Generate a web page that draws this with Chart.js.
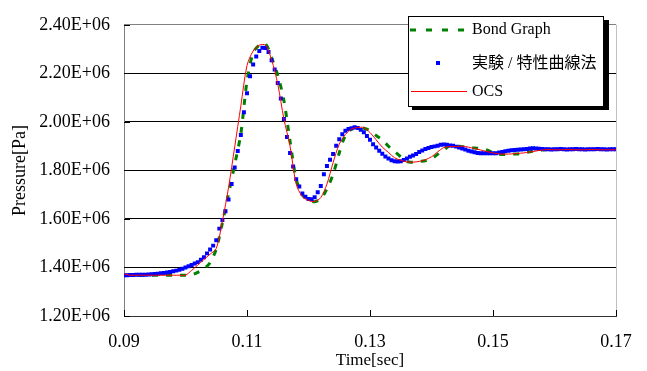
<!DOCTYPE html>
<html>
<head>
<meta charset="utf-8">
<script src="https://cdn.jsdelivr.net/npm/chart.js@4.4.1/dist/chart.umd.min.js"></script>
<style>
  html, body { margin: 0; padding: 0; background: #fff; }
</style>
</head>
<body>
<canvas id="chart" width="647" height="371"></canvas>
<script>
// series names
const nameBond = 'Bond Graph';
const nameExp = '実験 / 特性曲線法';
const nameOcs = 'OCS';

// axis ticks
const xTicks = [0.09, 0.11, 0.13, 0.15, 0.17];
const yTicks = [1.2e6, 1.4e6, 1.6e6, 1.8e6, 2.0e6, 2.2e6, 2.4e6];

// experiment (blue squares), every 0.5 ms
const expTime = [
  0.0900, 0.0905, 0.0910, 0.0915, 0.0920, 0.0925, 0.0930, 0.0935, 0.0940, 0.0945,
  0.0950, 0.0955, 0.0960, 0.0965, 0.0970, 0.0975, 0.0980, 0.0985, 0.0990, 0.0995,
  0.1000, 0.1005, 0.1010, 0.1015, 0.1020, 0.1025, 0.1030, 0.1035, 0.1040, 0.1045,
  0.1050, 0.1055, 0.1060, 0.1065, 0.1070, 0.1075, 0.1080, 0.1085, 0.1090, 0.1095,
  0.1100, 0.1105, 0.1110, 0.1115, 0.1120, 0.1125, 0.1130, 0.1135, 0.1140, 0.1145,
  0.1150, 0.1155, 0.1160, 0.1165, 0.1170, 0.1175, 0.1180, 0.1185, 0.1190, 0.1195,
  0.1200, 0.1205, 0.1210, 0.1215, 0.1220, 0.1225, 0.1230, 0.1235, 0.1240, 0.1245,
  0.1250, 0.1255, 0.1260, 0.1265, 0.1270, 0.1275, 0.1280, 0.1285, 0.1290, 0.1295,
  0.1300, 0.1305, 0.1310, 0.1315, 0.1320, 0.1325, 0.1330, 0.1335, 0.1340, 0.1345,
  0.1350, 0.1355, 0.1360, 0.1365, 0.1370, 0.1375, 0.1380, 0.1385, 0.1390, 0.1395,
  0.1400, 0.1405, 0.1410, 0.1415, 0.1420, 0.1425, 0.1430, 0.1435, 0.1440, 0.1445,
  0.1450, 0.1455, 0.1460, 0.1465, 0.1470, 0.1475, 0.1480, 0.1485, 0.1490, 0.1495,
  0.1500, 0.1505, 0.1510, 0.1515, 0.1520, 0.1525, 0.1530, 0.1535, 0.1540, 0.1545,
  0.1550, 0.1555, 0.1560, 0.1565, 0.1570, 0.1575, 0.1580, 0.1585, 0.1590, 0.1595,
  0.1600, 0.1605, 0.1610, 0.1615, 0.1620, 0.1625, 0.1630, 0.1635, 0.1640, 0.1645,
  0.1650, 0.1655, 0.1660, 0.1665, 0.1670, 0.1675, 0.1680, 0.1685, 0.1690, 0.1695,
  0.1700
];
const expPressure = [
  1.368e6, 1.368e6, 1.369e6, 1.369e6, 1.370e6, 1.370e6, 1.370e6, 1.370e6, 1.371e6, 1.372e6,
  1.373e6, 1.374e6, 1.376e6, 1.377e6, 1.379e6, 1.381e6, 1.384e6, 1.387e6, 1.390e6, 1.395e6,
  1.400e6, 1.405e6, 1.410e6, 1.416e6, 1.422e6, 1.432e6, 1.442e6, 1.458e6, 1.474e6, 1.490e6,
  1.512e6, 1.560e6, 1.596e6, 1.632e6, 1.680e6, 1.744e6, 1.812e6, 1.880e6, 1.946e6, 2.040e6,
  2.118e6, 2.188e6, 2.236e6, 2.269e6, 2.292e6, 2.305e6, 2.304e6, 2.288e6, 2.254e6, 2.216e6,
  2.160e6, 2.096e6, 2.012e6, 1.938e6, 1.872e6, 1.816e6, 1.764e6, 1.734e6, 1.705e6, 1.691e6,
  1.682e6, 1.681e6, 1.689e6, 1.710e6, 1.736e6, 1.784e6, 1.818e6, 1.844e6, 1.868e6, 1.902e6,
  1.928e6, 1.949e6, 1.963e6, 1.971e6, 1.974e6, 1.978e6, 1.975e6, 1.967e6, 1.957e6, 1.942e6,
  1.926e6, 1.908e6, 1.894e6, 1.881e6, 1.869e6, 1.857e6, 1.849e6, 1.842e6, 1.838e6, 1.837e6,
  1.838e6, 1.843e6, 1.849e6, 1.856e6, 1.861e6, 1.868e6, 1.876e6, 1.882e6, 1.888e6, 1.892e6,
  1.896e6, 1.899e6, 1.902e6, 1.906e6, 1.907e6, 1.906e6, 1.903e6, 1.902e6, 1.898e6, 1.894e6,
  1.890e6, 1.886e6, 1.881e6, 1.878e6, 1.875e6, 1.872e6, 1.871e6, 1.871e6, 1.871e6, 1.871e6,
  1.871e6, 1.871e6, 1.874e6, 1.876e6, 1.879e6, 1.881e6, 1.883e6, 1.884e6, 1.885e6, 1.886e6,
  1.887e6, 1.888e6, 1.890e6, 1.891e6, 1.890e6, 1.889e6, 1.888e6, 1.887e6, 1.887e6, 1.886e6,
  1.887e6, 1.887e6, 1.888e6, 1.887e6, 1.886e6, 1.887e6, 1.887e6, 1.888e6, 1.887e6, 1.887e6,
  1.886e6, 1.887e6, 1.887e6, 1.887e6, 1.888e6, 1.887e6, 1.887e6, 1.886e6, 1.887e6, 1.887e6,
  1.887e6
];

// simulations, every 1 ms
const simTime = [
  0.090, 0.091, 0.092, 0.093, 0.094, 0.095, 0.096, 0.097, 0.098, 0.099,
  0.100, 0.101, 0.102, 0.103, 0.104, 0.105, 0.106, 0.107, 0.108, 0.109,
  0.110, 0.111, 0.112, 0.113, 0.114, 0.115, 0.116, 0.117, 0.118, 0.119,
  0.120, 0.121, 0.122, 0.123, 0.124, 0.125, 0.126, 0.127, 0.128, 0.129,
  0.130, 0.131, 0.132, 0.133, 0.134, 0.135, 0.136, 0.137, 0.138, 0.139,
  0.140, 0.141, 0.142, 0.143, 0.144, 0.145, 0.146, 0.147, 0.148, 0.149,
  0.150, 0.151, 0.152, 0.153, 0.154, 0.155, 0.156, 0.157, 0.158, 0.159,
  0.160, 0.161, 0.162, 0.163, 0.164, 0.165, 0.166, 0.167, 0.168, 0.169,
  0.170
];
const ocsPressure = [
  1.374e6, 1.368e6, 1.368e6, 1.368e6, 1.368e6, 1.368e6, 1.368e6, 1.368e6, 1.368e6, 1.368e6,
  1.368e6, 1.388e6, 1.410e6, 1.433e6, 1.455e6, 1.478e6, 1.591e6, 1.730e6, 1.897e6, 2.066e6,
  2.232e6, 2.292e6, 2.316e6, 2.316e6, 2.256e6, 2.156e6, 2.012e6, 1.900e6, 1.744e6, 1.692e6,
  1.676e6, 1.672e6, 1.688e6, 1.744e6, 1.832e6, 1.908e6, 1.948e6, 1.970e6, 1.977e6, 1.976e6,
  1.956e6, 1.926e6, 1.896e6, 1.874e6, 1.852e6, 1.842e6, 1.835e6, 1.834e6, 1.837e6, 1.844e6,
  1.856e6, 1.876e6, 1.894e6, 1.898e6, 1.898e6, 1.900e6, 1.896e6, 1.890e6, 1.884e6, 1.878e6,
  1.872e6, 1.868e6, 1.867e6, 1.868e6, 1.870e6, 1.872e6, 1.876e6, 1.880e6, 1.884e6, 1.886e6,
  1.885e6, 1.885e6, 1.886e6, 1.885e6, 1.885e6, 1.885e6, 1.886e6, 1.885e6, 1.885e6, 1.885e6,
  1.885e6
];
const bondPressure = [
  1.368e6, 1.368e6, 1.368e6, 1.368e6, 1.368e6, 1.368e6, 1.368e6, 1.368e6, 1.368e6, 1.368e6,
  1.368e6, 1.370e6, 1.380e6, 1.394e6, 1.420e6, 1.476e6, 1.584e6, 1.704e6, 1.824e6, 1.952e6,
  2.168e6, 2.284e6, 2.316e6, 2.322e6, 2.264e6, 2.192e6, 2.088e6, 1.920e6, 1.764e6, 1.700e6,
  1.678e6, 1.671e6, 1.682e6, 1.724e6, 1.784e6, 1.872e6, 1.944e6, 1.970e6, 1.977e6, 1.974e6,
  1.964e6, 1.944e6, 1.926e6, 1.900e6, 1.878e6, 1.856e6, 1.836e6, 1.834e6, 1.837e6, 1.840e6,
  1.848e6, 1.866e6, 1.884e6, 1.902e6, 1.901e6, 1.898e6, 1.895e6, 1.892e6, 1.890e6, 1.884e6,
  1.874e6, 1.867e6, 1.866e6, 1.867e6, 1.868e6, 1.872e6, 1.877e6, 1.881e6, 1.884e6, 1.886e6,
  1.886e6, 1.887e6, 1.886e6, 1.887e6, 1.887e6, 1.886e6, 1.887e6, 1.887e6, 1.886e6, 1.887e6,
  1.887e6
];

const colOcs = '#FF0000';
const colExp = '#0000FF';
const colBond = '#008000';

const toXY = (xs, ys) => xs.map((x, i) => ({ x: x, y: ys[i] }));

const serif = '"Liberation Serif", "Times New Roman", "Noto Sans CJK JP", serif';

// inward tick marks on both axes
const axisMarks = {
  id: 'axisMarks',
  afterDatasetsDraw(chart) {
    const { ctx, chartArea, scales } = chart;
    ctx.save();
    ctx.strokeStyle = '#000';
    ctx.lineWidth = 1;
    ctx.beginPath();
    xTicks.forEach(v => {
      const px = Math.round(scales.x.getPixelForValue(v)) + 0.5;
      ctx.moveTo(px, chartArea.bottom);
      ctx.lineTo(px, chartArea.bottom - 6);
    });
    yTicks.forEach(v => {
      const py = Math.round(scales.y.getPixelForValue(v)) + 0.5;
      ctx.moveTo(chartArea.left, py);
      ctx.lineTo(chartArea.left + 6, py);
    });
    ctx.stroke();
    ctx.restore();
  }
};

// boxed legend with shadow, like the original
const legendBox = {
  id: 'legendBox',
  afterDraw(chart) {
    const ctx = chart.ctx;
    ctx.save();
    ctx.fillStyle = '#000';
    ctx.fillRect(412, 20, 197, 90);
    ctx.fillStyle = '#fff';
    ctx.fillRect(408, 16, 196, 91);
    ctx.strokeStyle = '#000';
    ctx.lineWidth = 1;
    ctx.strokeRect(408.5, 16.5, 195, 90);

    // Bond Graph
    ctx.strokeStyle = colBond;
    ctx.lineWidth = 3;
    ctx.setLineDash([6, 10]);
    ctx.beginPath();
    ctx.moveTo(410, 30);
    ctx.lineTo(469, 30);
    ctx.stroke();
    ctx.setLineDash([]);

    // experiment
    ctx.fillStyle = colExp;
    ctx.fillRect(436, 61, 4, 4);

    // OCS
    ctx.strokeStyle = colOcs;
    ctx.lineWidth = 1;
    ctx.beginPath();
    ctx.moveTo(411, 91.5);
    ctx.lineTo(467, 91.5);
    ctx.stroke();

    ctx.fillStyle = '#000';
    ctx.font = '16px ' + serif;
    ctx.textBaseline = 'middle';
    ctx.textAlign = 'left';
    ctx.fillText(nameBond, 472, 30);
    ctx.fillText(nameExp, 472, 64);
    ctx.fillText(nameOcs, 472, 92);
    ctx.restore();
  }
};

new Chart(document.getElementById('chart'), {
  type: 'scatter',
  data: {
    datasets: [
      {
        label: nameOcs,
        data: toXY(simTime, ocsPressure),
        showLine: true,
        borderColor: colOcs,
        borderWidth: 1,
        pointRadius: 0,
        tension: 0.3,
        order: 0
      },
      {
        label: nameExp,
        data: toXY(expTime, expPressure),
        showLine: false,
        pointStyle: 'rect',
        pointRadius: 2.8,
        borderWidth: 0,
        backgroundColor: colExp,
        borderColor: colExp,
        order: 1
      },
      {
        label: nameBond,
        data: toXY(simTime, bondPressure),
        showLine: true,
        borderColor: colBond,
        borderWidth: 3,
        borderDash: [6, 8],
        pointRadius: 0,
        tension: 0.3,
        order: 2
      }
    ]
  },
  options: {
    responsive: false,
    animation: false,
    devicePixelRatio: 1,
    layout: { padding: { top: 16, right: 31, left: 0, bottom: 0 } },
    plugins: {
      legend: { display: false },
      tooltip: { enabled: false }
    },
    scales: {
      x: {
        type: 'linear',
        min: 0.09,
        max: 0.17,
        afterBuildTicks: s => { s.ticks = xTicks.map(v => ({ value: v })); },
        afterFit: s => { s.height = 55; },
        ticks: {
          color: '#000',
          padding: 15,
          maxRotation: 0,
          font: { family: serif, size: 18 },
          callback: v => v.toFixed(2)
        },
        grid: {
          drawTicks: false,
          color: ctx => (ctx.index === xTicks.length - 1 ? '#c0c0c0' : 'rgba(0,0,0,0)')
        },
        border: { color: '#333', width: 1 },
        title: {
          display: true,
          text: 'Time[sec]',
          color: '#000',
          font: { family: serif, size: 17 },
          padding: { top: 0, bottom: 0 }
        }
      },
      y: {
        min: 1.2e6,
        max: 2.4e6,
        afterBuildTicks: s => { s.ticks = yTicks.map(v => ({ value: v })); },
        afterFit: s => { s.width = 124; },
        ticks: {
          color: '#000',
          padding: 14,
          font: { family: serif, size: 18 },
          callback: v => (v / 1e6).toFixed(2) + 'E+06'
        },
        grid: {
          drawTicks: false,
          color: ctx => (ctx.index === yTicks.length - 1 ? '#808080' : '#000')
        },
        border: { color: '#808080', width: 1 },
        title: {
          display: true,
          text: 'Pressure[Pa]',
          color: '#000',
          font: { family: serif, size: 18 },
          padding: { top: 9, bottom: 0 }
        }
      }
    }
  },
  plugins: [axisMarks, legendBox]
});
</script>
</body>
</html>
